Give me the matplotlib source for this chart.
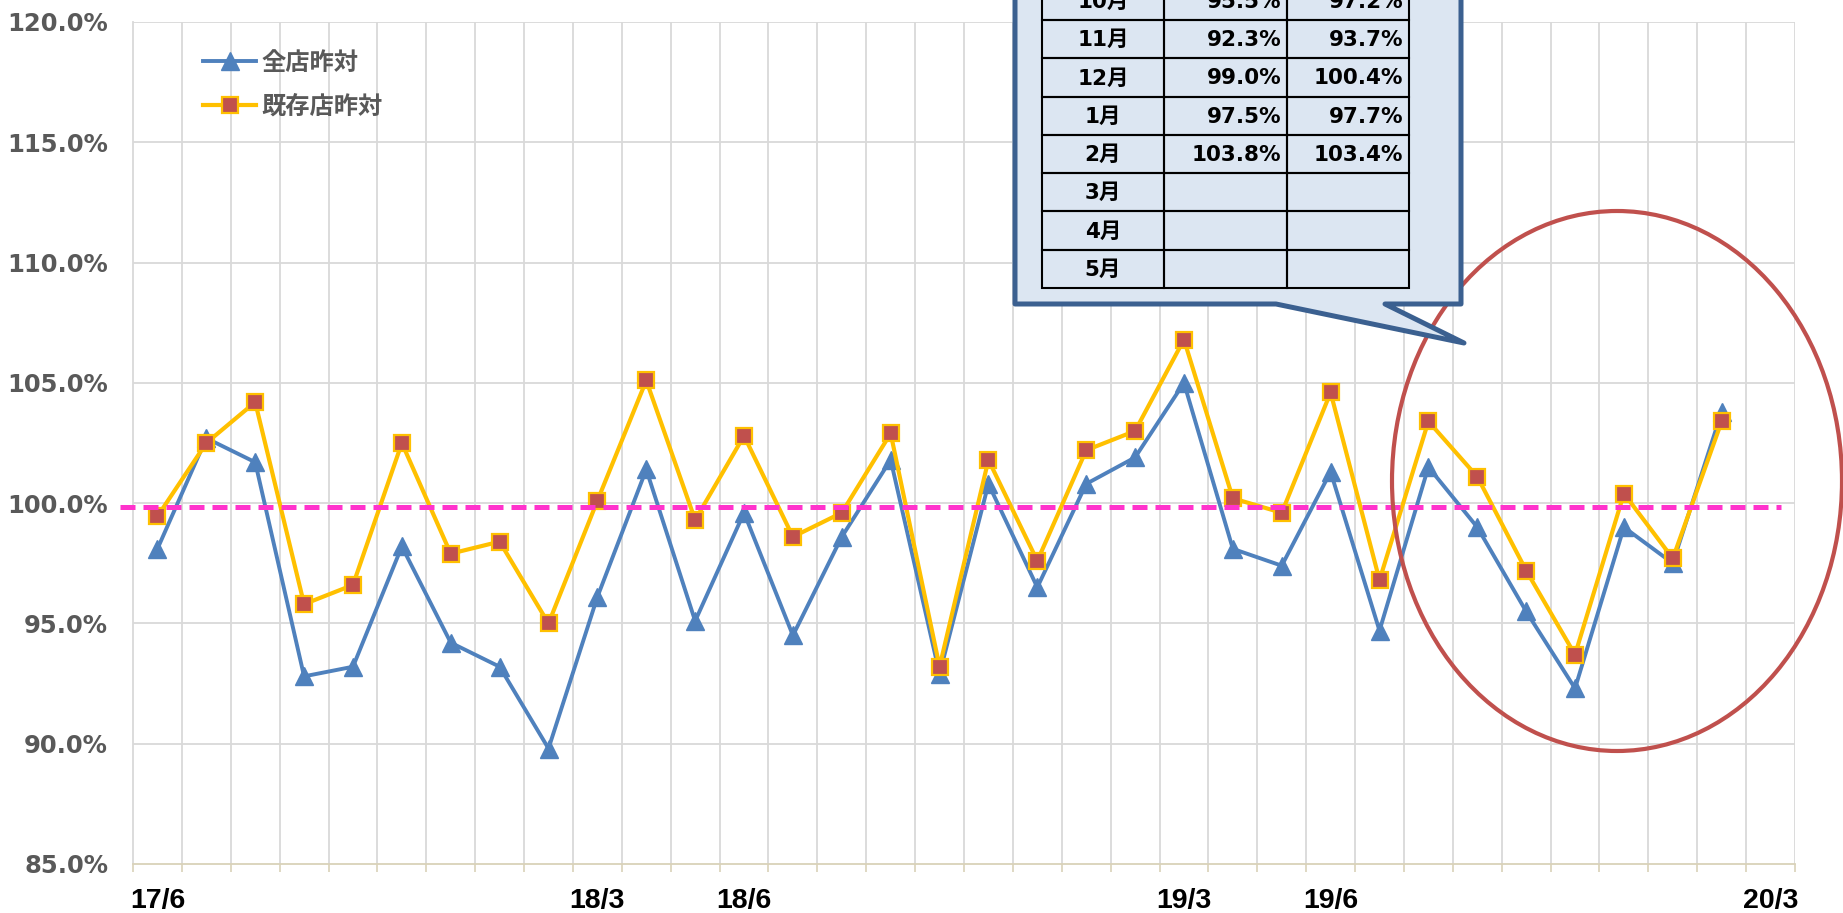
import matplotlib
matplotlib.use('Agg')
import matplotlib.pyplot as plt
from matplotlib.patches import Polygon, Ellipse, Rectangle
import numpy as np

plt.rcParams['font.family'] = ['DejaVu Sans', 'Noto Sans CJK JP']

# monthly labels, 17/6 .. 20/3
months = ['17/6', '17/7', '17/8', '17/9', '17/10', '17/11', '17/12',
          '18/1', '18/2', '18/3', '18/4', '18/5', '18/6', '18/7', '18/8', '18/9',
          '18/10', '18/11', '18/12', '19/1', '19/2', '19/3', '19/4', '19/5',
          '19/6', '19/7', '19/8', '19/9', '19/10', '19/11', '19/12', '20/1',
          '20/2', '20/3']
shown_labels = ['17/6', '18/3', '18/6', '19/3', '19/6', '20/3']

# 全店昨対 (%)
all_store = [98.1, 102.7, 101.7, 92.8, 93.2, 98.2, 94.2, 93.2, 89.8, 96.1,
             101.4, 95.1, 99.6, 94.5, 98.6, 101.8, 92.9, 100.8, 96.5, 100.8,
             101.9, 105.0, 98.1, 97.4, 101.3, 94.7, 101.5, 99.0, 95.5, 92.3,
             99.0, 97.5, 103.8]
# 既存店昨対 (%)
existing = [99.45, 102.5, 104.2, 95.8, 96.6, 102.5, 97.9, 98.4, 95.0, 100.1,
            105.1, 99.3, 102.8, 98.6, 99.6, 102.9, 93.2, 101.8, 97.6, 102.2,
            103.0, 106.8, 100.2, 99.6, 104.6, 96.8, 103.4, 101.1, 97.2, 93.7,
            100.4, 97.7, 103.4]
ref_level = 99.85

# callout table
tbl_months = ['10月', '11月', '12月', '1月', '2月', '3月', '4月', '5月']
tbl_all = ['95.5%', '92.3%', '99.0%', '97.5%', '103.8%', '', '', '']
tbl_exist = ['97.2%', '93.7%', '100.4%', '97.7%', '103.4%', '', '', '']

W, H = 1843, 913
fig = plt.figure(figsize=(W / 100, H / 100), dpi=100)
ax = fig.add_axes([133 / W, 1 - 864 / H, (1795 - 133) / W, (864 - 22) / H])

x = np.arange(len(all_store))
ax.plot(x, all_store, color='#4F81BD', lw=2.8, marker='^', ms=12.5,
        mfc='#4F81BD', mec='#4F81BD', label='全店昨対', zorder=3)
ax.plot(x, existing, color='#FFC000', lw=3.0, marker='s', ms=11.5,
        mfc='#C0504D', mec='#FFC000', mew=1.6, label='既存店昨対', zorder=4)
ax.plot([-0.77, 33.22], [ref_level, ref_level], color='#FF33CC', lw=3.6,
        ls=(0, (3, 1.6)), clip_on=False, zorder=5)

ax.set_xlim(-0.5, len(months) - 0.5)
ax.set_ylim(85, 120)
ax.set_yticks(np.arange(85, 120.1, 5))
ax.set_yticklabels(['%.1f%%' % v for v in np.arange(85, 120.1, 5)],
                   fontsize=17.5, fontweight='bold', color='#595959')
ax.tick_params(axis='y', length=0, pad=18)

ax.set_xticks([months.index(m) for m in shown_labels])
ax.set_xticklabels(shown_labels, fontsize=20.5, fontweight='bold',
                   family=['Liberation Sans Narrow', 'Liberation Sans'])
ax.set_xticks(np.arange(-0.5, len(months)), minor=True)
ax.tick_params(axis='x', which='major', length=0, pad=17)
ax.tick_params(axis='x', which='minor', length=6, color='#D9D2B9', width=1.2)

for v in np.arange(90, 120.1, 5):
    ax.axhline(v, color='#D9D9D9', lw=1.3, zorder=1)
for b in np.arange(0.5, len(months) - 0.4):
    ax.axvline(b, color='#D9D9D9', lw=1.3, zorder=1)
for s in ['top', 'right']:
    ax.spines[s].set_visible(False)
ax.spines['left'].set_color('#D9D9D9')
ax.spines['left'].set_linewidth(1.3)
ax.spines['bottom'].set_color('#D9D2B9')
ax.spines['bottom'].set_linewidth(1.3)

leg = ax.legend(loc='upper left', bbox_to_anchor=(181 / W, 1 - 29 / H),
                bbox_transform=fig.transFigure, frameon=False,
                prop={'family': ['Noto Sans CJK JP'], 'weight': 'bold', 'size': 17.5},
                handlelength=2.2, handletextpad=0.2, labelspacing=0.82)
for t in leg.get_texts():
    t.set_color('#595959')

# overlay in pixel coords for callout and ellipse
ov = fig.add_axes([0, 0, 1, 1], zorder=10)
ov.set_xlim(0, W)
ov.set_ylim(H, 0)
ov.axis('off')
ov.patch.set_visible(False)

ov.add_patch(Ellipse((1617, 481), 450, 540, fill=False, ec='#C0504D', lw=3))

callout = [(1015, -60), (1461, -60), (1461, 304), (1385, 304), (1464, 343),
           (1276, 304), (1015, 304)]
ov.add_patch(Polygon(callout, closed=True, fc='#DCE6F2', ec='#3B6090', lw=3.6,
                     joinstyle='round'))

col_x = [1042, 1164, 1287, 1409]
row_top, row_h = -18.3, 38.3
for i, m in enumerate(tbl_months):
    y0 = row_top + i * row_h
    for c in range(3):
        ov.add_patch(Rectangle((col_x[c], y0), col_x[c + 1] - col_x[c], row_h,
                               fill=False, ec='black', lw=1.5))
    yc = y0 + row_h / 2 + 1
    ov.text(1103, yc, m, ha='center', va='center', fontsize=15.5, fontweight='bold')
    ov.text(1281, yc, tbl_all[i], ha='right', va='center', fontsize=15.5, fontweight='bold')
    ov.text(1403, yc, tbl_exist[i], ha='right', va='center', fontsize=15.5, fontweight='bold')

fig.savefig('out.png', dpi=100)
